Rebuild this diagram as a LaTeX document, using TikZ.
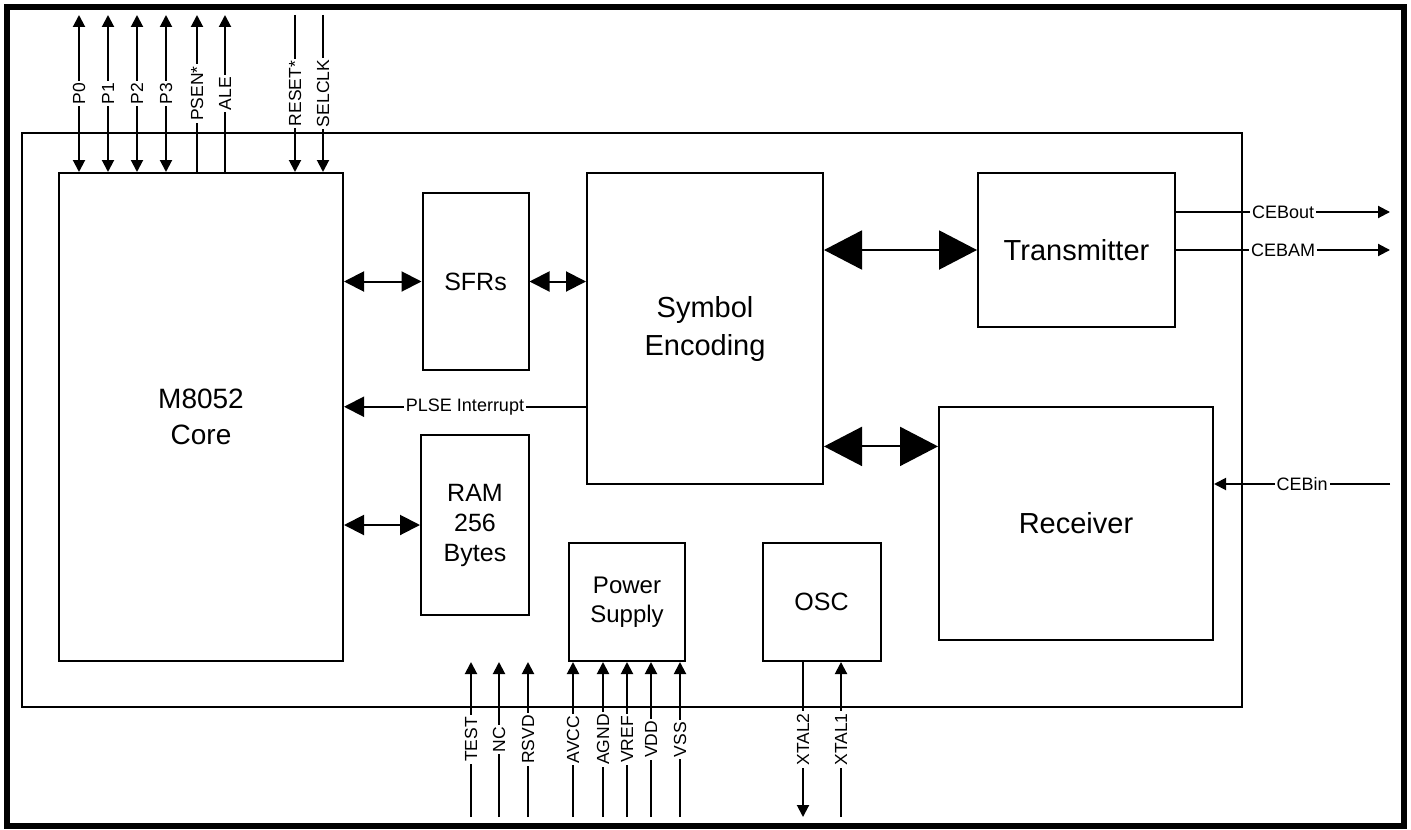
\documentclass[tikz,border=0pt]{standalone}
\usepackage{fontspec}
\setmainfont{Liberation Sans}
\usepackage{tikz}
\usetikzlibrary{arrows.meta}
\usetikzlibrary{calc}

\begin{document}
\begin{tikzpicture}[x=0.5pt,y=0.5pt,yscale=-1,xscale=1,
  blk/.style={draw,line width=1pt,inner sep=0pt,align=center,font=\fontsize{14.5}{19}\selectfont},
  sblk/.style={blk,font=\fontsize{12.5}{15}\selectfont},
  wire/.style={line width=1pt},
  pinlbl/.style={fill=white,inner sep=1pt,rotate=90,font=\fontsize{8.75}{10}\selectfont},
  siglbl/.style={fill=white,inner sep=1pt,font=\fontsize{9}{10}\selectfont},
  outarr/.style={-{Triangle[length=6pt,width=6pt]}},
  biarr/.style={{Triangle[length=6pt,width=6pt]}-{Triangle[length=6pt,width=6pt]}},
  busarr/.style={{Triangle[length=10pt,width=10pt]}-{Triangle[length=10pt,width=10pt]}},
  intarr/.style={-{Triangle[length=10pt,width=10pt]}},
  widebus/.style={{Triangle[length=19pt,width=19.5pt]}-{Triangle[length=19pt,width=19.5pt]}}]
\useasboundingbox (0,0) rectangle (1411,829);

%Shape: Rectangle [frame]
\draw[line width=3pt] (7,7.5) rectangle (1404,825.5);
%Shape: Rectangle [chip]
\draw[wire] (22,133) rectangle (1242,707);

%Shape: Rectangle [blocks]
\node[blk,minimum width=142pt,minimum height=244pt,font=\fontsize{14}{18}\selectfont] (core) at (201,417) {M8052\\Core};
\node[sblk,minimum width=53pt,minimum height=88.5pt] (sfr) at (475.5,281.5) {SFRs};
\node[sblk,minimum width=54pt,minimum height=90pt] (ram) at (475,525) {RAM\\256\\Bytes};
\node[blk,minimum width=118pt,minimum height=155.5pt] (enc) at (705,328.5) {Symbol\\Encoding};
\node[blk,minimum width=98.5pt,minimum height=77pt] (tx) at (1076.5,250) {Transmitter};
\node[blk,minimum width=137pt,minimum height=116.5pt] (rx) at (1076,523.5) {Receiver};
\node[sblk,minimum width=58pt,minimum height=59pt,font=\fontsize{12}{14.5}\selectfont] (pwr) at (627,602) {Power\\Supply};
\node[sblk,minimum width=59pt,minimum height=59pt] (osc) at (821.5,602) {OSC};

%Straight Lines [internal buses]
\draw[wire,busarr] (core.east |- sfr.west) -- (sfr.west);
\draw[wire,busarr] (sfr.east) -- (sfr.east -| enc.west);
\draw[wire,busarr] (core.east |- ram.west) -- (ram.west);
\coordinate (plse) at ($(enc.north west)!0.75!(enc.south west)$);
\draw[wire,intarr] (plse) -- (plse -| core.east) node[siglbl,midway] {PLSE Interrupt};
\draw[wire,widebus] (enc.east |- tx.west) -- (tx.west);
\coordinate (rxlink) at ($(rx.north west)!0.172!(rx.south west)$);
\draw[wire,widebus] (rxlink -| enc.east) -- (rxlink);

%Straight Lines [CEB side]
\coordinate (cebout) at (1390,212);
\coordinate (cebam) at (1390,250);
\coordinate (cebin) at (1390,484);
\draw[wire,outarr] (cebout -| tx.east) -- (cebout) node[siglbl,midway] {CEBout};
\draw[wire,outarr] (cebam -| tx.east) -- (cebam) node[siglbl,midway] {CEBAM};
\draw[wire,outarr] (cebin) -- (cebin -| rx.east) node[siglbl,midway] {CEBin};

%Straight Lines [top pins]
\coordinate (p0) at (79,15);
\coordinate (p1) at (108,15);
\coordinate (p2) at (137,15);
\coordinate (p3) at (166,15);
\coordinate (psen) at (197,15);
\coordinate (ale) at (225,15);
\coordinate (reset) at (295,15);
\coordinate (selclk) at (323,15);
\draw[wire,biarr] (p0) -- (p0 |- core.north) node[pinlbl,midway] {P0};
\draw[wire,biarr] (p1) -- (p1 |- core.north) node[pinlbl,midway] {P1};
\draw[wire,biarr] (p2) -- (p2 |- core.north) node[pinlbl,midway] {P2};
\draw[wire,biarr] (p3) -- (p3 |- core.north) node[pinlbl,midway] {P3};
\draw[wire,outarr] (psen |- core.north) -- (psen) node[pinlbl,midway] {PSEN*};
\draw[wire,outarr] (ale |- core.north) -- (ale) node[pinlbl,midway] {ALE};
\draw[wire,outarr] (reset) -- (reset |- core.north) node[pinlbl,midway] {RESET*};
\draw[wire,outarr] (selclk) -- (selclk |- core.north) node[pinlbl,midway] {SELCLK};

%Straight Lines [bottom pins]
\coordinate (test) at (471,817);
\coordinate (nc) at (499,817);
\coordinate (rsvd) at (528,817);
\coordinate (avcc) at (573,817);
\coordinate (agnd) at (603,817);
\coordinate (vref) at (627,817);
\coordinate (vdd) at (651,817);
\coordinate (vss) at (680,817);
\coordinate (xtal2) at (803,817);
\coordinate (xtal1) at (841,817);
\draw[wire,outarr] (test) -- (test |- pwr.south) node[pinlbl,midway] {TEST};
\draw[wire,outarr] (nc) -- (nc |- pwr.south) node[pinlbl,midway] {NC};
\draw[wire,outarr] (rsvd) -- (rsvd |- pwr.south) node[pinlbl,midway] {RSVD};
\draw[wire,outarr] (avcc) -- (avcc |- pwr.south) node[pinlbl,midway] {AVCC};
\draw[wire,outarr] (agnd) -- (agnd |- pwr.south) node[pinlbl,midway] {AGND};
\draw[wire,outarr] (vref) -- (vref |- pwr.south) node[pinlbl,midway] {VREF};
\draw[wire,outarr] (vdd) -- (vdd |- pwr.south) node[pinlbl,midway] {VDD};
\draw[wire,outarr] (vss) -- (vss |- pwr.south) node[pinlbl,midway] {VSS};
\draw[wire,outarr] (xtal2 |- osc.south) -- (xtal2) node[pinlbl,midway] {XTAL2};
\draw[wire,outarr] (xtal1) -- (xtal1 |- osc.south) node[pinlbl,midway] {XTAL1};

\end{tikzpicture}
\end{document}
